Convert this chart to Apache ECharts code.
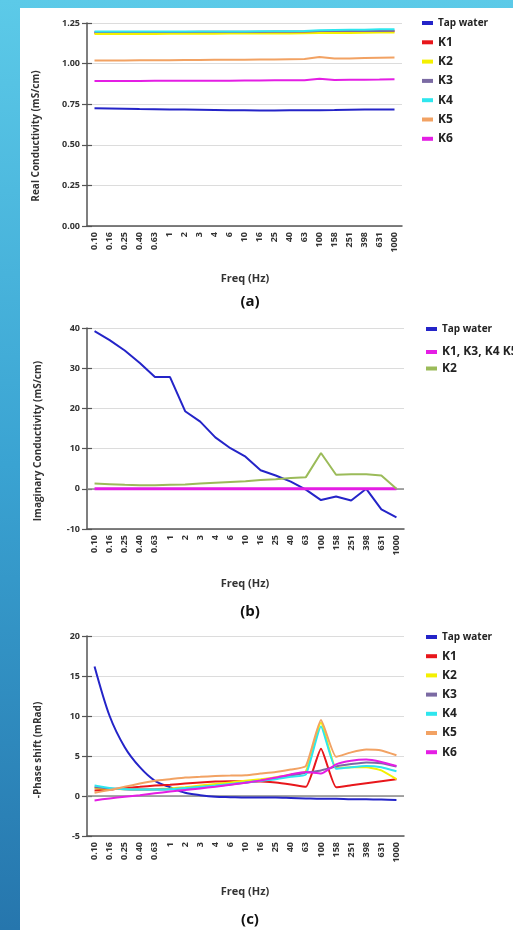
<!DOCTYPE html>
<html>
<head>
<meta charset="utf-8">
<script src="https://cdn.jsdelivr.net/npm/echarts@6/dist/echarts.min.js"></script>
<style>
html,body{margin:0;padding:0;width:513px;height:930px;overflow:hidden;}
body{background:linear-gradient(to bottom,#5ccae8 0%,#3aa3d2 50%,#2676ad 100%);position:relative;}
#panel{position:absolute;left:20px;top:8px;width:493px;height:922px;background:#fff;}
.ch{position:absolute;left:0;width:513px;height:310px;}
</style>
</head>
<body>
<div id="panel"></div>
<div id="ca" class="ch" style="top:0px"></div>
<div id="cb" class="ch" style="top:310px"></div>
<div id="cc" class="ch" style="top:620px"></div>
<script>
const freqs = ['0.10','0.16','0.25','0.40','0.63','1','2','3','4','6','10','16','25','40','63','100','158','251','398','631','1000'];

// (a) Real conductivity (mS/cm)
const realTap = [0.725,0.724,0.722,0.720,0.719,0.718,0.717,0.716,0.715,0.713,0.712,0.711,0.711,0.712,0.713,0.713,0.714,0.716,0.717,0.718,0.718];
const realK1  = [1.189,1.189,1.189,1.189,1.189,1.190,1.190,1.190,1.190,1.190,1.191,1.191,1.191,1.192,1.193,1.195,1.195,1.196,1.197,1.198,1.199];
const realK2  = [1.183,1.183,1.183,1.183,1.183,1.184,1.184,1.184,1.184,1.185,1.185,1.185,1.186,1.186,1.187,1.188,1.188,1.189,1.190,1.191,1.192];
const realK3  = [1.195,1.195,1.195,1.195,1.195,1.195,1.195,1.196,1.196,1.196,1.196,1.196,1.197,1.197,1.197,1.200,1.200,1.200,1.201,1.201,1.202];
const realK4  = [1.197,1.197,1.197,1.197,1.197,1.197,1.197,1.198,1.198,1.198,1.198,1.199,1.199,1.199,1.200,1.205,1.207,1.208,1.209,1.211,1.212];
const realK5  = [1.019,1.019,1.019,1.020,1.020,1.021,1.022,1.022,1.023,1.023,1.024,1.025,1.026,1.027,1.028,1.040,1.031,1.032,1.034,1.036,1.038];
const realK6  = [0.893,0.893,0.893,0.893,0.894,0.894,0.894,0.895,0.895,0.895,0.896,0.896,0.897,0.897,0.898,0.907,0.899,0.900,0.901,0.902,0.904];

// (b) Imaginary conductivity (mS/cm)
const imagTap = [39.2,37.0,34.4,31.3,27.8,27.8,19.3,16.7,12.8,10.1,8.0,4.6,3.3,1.8,-0.2,-2.8,-1.9,-2.9,0,-5.1,-7.1];
const imagK   = [0,0,0,0,0,0,0,0,0,0,0,0,0,0,0,0,0,0,0,0,0];
const imagK2  = [1.3,1.15,1.0,0.9,0.9,1.0,1.1,1.3,1.5,1.7,1.9,2.2,2.4,2.7,2.9,8.9,3.5,3.6,3.6,3.3,0];

// (c) -Phase shift (mRad)
const phTap = [16.2,10.0,6.1,3.6,1.9,1.1,0.4,0.1,-0.1,-0.15,-0.2,-0.2,-0.2,-0.25,-0.3,-0.35,-0.35,-0.4,-0.4,-0.45,-0.5];
const phK1  = [0.7,0.8,1.0,1.15,1.3,1.4,1.55,1.7,1.8,1.85,1.85,1.8,1.7,1.45,1.15,5.9,1.1,1.35,1.6,1.85,2.1];
const phK2  = [1.0,0.9,0.85,0.8,0.85,0.95,1.1,1.3,1.5,1.7,1.9,2.1,2.35,2.7,3.1,9.2,3.5,3.6,3.6,3.2,2.1];
const phK3  = [1.1,0.95,0.85,0.8,0.8,0.85,0.95,1.1,1.25,1.45,1.65,1.9,2.2,2.55,2.9,3.2,3.7,4.0,4.2,4.1,3.7];
const phK4  = [1.3,1.0,0.85,0.8,0.8,0.85,1.0,1.15,1.3,1.5,1.7,1.9,2.1,2.4,2.7,8.7,3.4,3.6,3.75,3.6,3.1];
const phK5  = [0.4,0.75,1.15,1.55,1.9,2.1,2.3,2.4,2.5,2.55,2.6,2.8,3.0,3.3,3.75,9.5,4.9,5.45,5.8,5.7,5.1];
const phK6  = [-0.55,-0.3,-0.1,0.1,0.35,0.55,0.75,0.95,1.15,1.4,1.65,1.95,2.3,2.7,3.0,2.8,3.95,4.4,4.55,4.25,3.75];

const FONT = '"Open Sans", "DejaVu Sans", sans-serif';
const C = {tap:'#2424c8', k1:'#e8161b', k2:'#f4f000', k3:'#7b6aa3', k4:'#2ee6ee', k5:'#f2a263', k6:'#e41ee4', olive:'#9bbb59'};

function axes(gridLeft, gridTop, gridW, gridH, ymin, ymax, yint, ydec){
  const axisCol = '#555';
  return {
    grid: {left: gridLeft, top: gridTop, width: gridW, height: gridH, containLabel: false},
    xAxis: [
      {type:'category', data: freqs, boundaryGap: true,
       axisLine:{onZero:false, lineStyle:{color:axisCol, width:1.5}},
       axisTick:{alignWithLabel:true, length:5, lineStyle:{color:axisCol, width:1.2}},
       axisLabel:{interval:0, rotate:90, color:'#333', fontFamily:FONT, fontWeight:'bold', fontSize:9, margin:6},
       splitLine:{show:false}},
      {type:'category', data: freqs, boundaryGap: true, position:'bottom',
       axisLine:{show:false, onZero:false},
       axisTick:{alignWithLabel:true, inside:true, length:5, lineStyle:{color:axisCol, width:1.2}},
       axisLabel:{show:false}, splitLine:{show:false}}
    ],
    yAxis: [
      {type:'value', min:ymin, max:ymax, interval:yint,
       axisLine:{show:true, lineStyle:{color:axisCol, width:1.5}},
       axisTick:{show:true, length:5, lineStyle:{color:axisCol, width:1.2}},
       axisLabel:{color:'#333', fontFamily:FONT, fontWeight:'bold', fontSize:9, margin:7,
         formatter: v => v.toFixed(ydec)},
       splitLine:{show:true, lineStyle:{color:'#dcdcdc', width:1.2}}},
      {type:'value', min:ymin, max:ymax, interval:yint, position:'left',
       axisLine:{show:false}, axisTick:{show:true, inside:true, length:5, lineStyle:{color:axisCol, width:1.2}},
       axisLabel:{show:false}, splitLine:{show:false}}
    ]
  };
}

function line(name, data, color, width, smooth){
  return {name, type:'line', data, xAxisIndex:0, yAxisIndex:0, symbol:'none', smooth: smooth || false, z:3,
    lineStyle:{color, width}, itemStyle:{color}, emphasis:{disabled:true}, animation:false};
}

function zeroLine(){
  return {name:'zero', type:'line', data:[], z:1, xAxisIndex:0, yAxisIndex:0, symbol:'none', animation:false,
    markLine:{z:1, silent:true, symbol:'none', label:{show:false}, animation:false,
      lineStyle:{color:'#8a8a8a', width:1.5, type:'solid'}, data:[{yAxis:0}]}};
}

function legendCfg(names, left, top, gap){
  return {orient:'vertical', left, top, itemGap: gap, itemWidth:11, itemHeight:4, icon:'rect',
    data: names, selectedMode:false,
    formatter: n => n === 'Tap water' ? '{s|' + n + '}' : '{b|' + n + '}',
    textStyle:{color:'#222', fontFamily:FONT, fontWeight:'bold', lineHeight:14,
      rich:{s:{fontSize:10, fontWeight:'bold', fontFamily:FONT, color:'#222'}, b:{fontSize:12, fontWeight:'bold', fontFamily:FONT, color:'#222'}}}};
}

function texts(yName, yNameX, yNameY, xNameY, capText, capY){
  return [
    {type:'text', x:yNameX, y:yNameY, rotation:Math.PI/2,
     style:{text:yName, fill:'#333', font:'bold 10px ' + FONT, textAlign:'center', textVerticalAlign:'middle'}},
    {type:'text', x:245, y:xNameY,
     style:{text:'Freq (Hz)', fill:'#333', font:'bold 11px ' + FONT, textAlign:'center', textVerticalAlign:'middle'}},
    {type:'text', x:250, y:capY,
     style:{text:capText, fill:'#111', font:'bold 15px ' + FONT, textAlign:'center', textVerticalAlign:'middle'}}
  ];
}

// Chart (a)
const ca = echarts.init(document.getElementById('ca'), null, {renderer:'canvas'});
ca.setOption(Object.assign(axes(87, 23, 315, 203, 0, 1.25, 0.25, 2), {
  animation:false,
  legend: legendCfg(['Tap water','K1','K2','K3','K4','K5','K6'], 417, 11, 5.3),
  graphic: texts('Real Conductivity (mS/cm)', 36, 136, 279, '(a)', 302),
  series: [
    line('Tap water', realTap, C.tap, 2),
    line('K1', realK1, C.k1, 2),
    line('K2', realK2, C.k2, 2),
    line('K3', realK3, C.k3, 2),
    line('K4', realK4, C.k4, 2),
    line('K5', realK5, C.k5, 2),
    line('K6', realK6, C.k6, 2)
  ]
}));

// Chart (b)
const cb = echarts.init(document.getElementById('cb'), null, {renderer:'canvas'});
cb.setOption(Object.assign(axes(87, 18, 317, 201, -10, 40, 10, 0), {
  animation:false,
  legend: [legendCfg(['Tap water'], 421, 7, 5), legendCfg(['K1, K3, K4 K5,','K2'], 421, 30, 2.5)],
  graphic: texts('Imaginary Conductivity (mS/cm)', 38, 131, 274, '(b)', 302),
  series: [
    zeroLine(),
    line('Tap water', imagTap, C.tap, 2),
    line('K1, K3, K4 K5,', imagK, C.k6, 3),
    line('K2', imagK2, C.olive, 2)
  ]
}));

// Chart (c)
const cc = echarts.init(document.getElementById('cc'), null, {renderer:'canvas'});
cc.setOption(Object.assign(axes(87, 16, 317, 200, -5, 20, 5, 0), {
  animation:false,
  legend: legendCfg(['Tap water','K1','K2','K3','K4','K5','K6'], 421, 5, 5.2),
  graphic: texts('-Phase shift (mRad)', 38, 130, 272, '(c)', 300),
  series: [
    zeroLine(),
    line('Tap water', phTap, C.tap, 2, 0.3),
    line('K1', phK1, C.k1, 2, 0.15),
    line('K2', phK2, C.k2, 2, 0.15),
    line('K3', phK3, C.k3, 2, 0.15),
    line('K4', phK4, C.k4, 2, 0.15),
    line('K5', phK5, C.k5, 2, 0.15),
    line('K6', phK6, C.k6, 2, 0.15)
  ]
}));
</script>
</body>
</html>
